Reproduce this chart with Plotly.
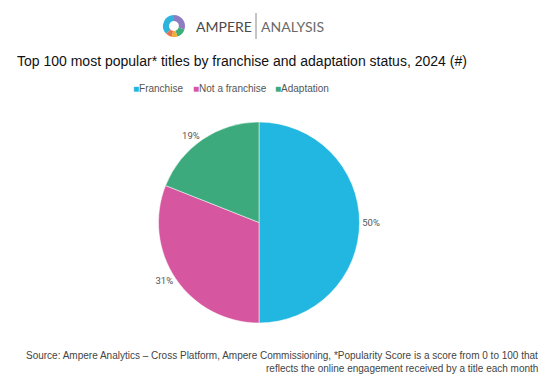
import plotly.graph_objects as go

categories = ["Franchise", "Not a franchise", "Adaptation"]
values = [50, 31, 19]
colors = ["#22B7E0", "#D6579F", "#3CAA7D"]

title_text = "Top 100 most popular* titles by franchise and adaptation status, 2024 (#)"
source_line1 = "Source: Ampere Analytics – Cross Platform, Ampere Commissioning, *Popularity Score is a score from 0 to 100 that"
source_line2 = "reflects the online engagement received by a title each month"

logo_segments = [30, 15, 8, 10, 37]
logo_colors = ["#8E7CC3", "#3DAE7A", "#F0B030", "#E8744A", "#2DB4DD"]

# page body has an 8px margin
OFF = 8
W, H = 558 - 2 * OFF, 383 - 2 * OFF

def px_x(x):
    return (x - OFF) / W

def px_y(y):
    return 1 - (y - OFF) / H

fig = go.Figure()

fig.add_trace(go.Pie(
    labels=categories,
    values=values,
    marker=dict(colors=colors, line=dict(color="white", width=0.5)),
    sort=False,
    direction="clockwise",
    rotation=0,
    textposition="outside",
    texttemplate="%{percent:.0%}",
    textfont=dict(family="Roboto, Liberation Sans, Arial", size=9.5, color="#555555"),
    showlegend=False,
    hoverinfo="label+value",
    domain=dict(x=[px_x(158), px_x(360)], y=[px_y(323), px_y(122)]),
))

fig.add_trace(go.Pie(
    values=logo_segments,
    marker=dict(colors=logo_colors),
    sort=False,
    direction="clockwise",
    rotation=0,
    hole=0.45,
    textinfo="none",
    showlegend=False,
    hoverinfo="skip",
    domain=dict(x=[px_x(163), px_x(185)], y=[px_y(37), px_y(15)]),
))

annotations = [
    dict(text="AMPERE", x=px_x(194), y=px_y(26), xanchor="left", yanchor="middle",
         font=dict(family="Lato, Open Sans, Liberation Sans", size=14, color="#4a4a4a")),
    dict(text="ANALYSIS", x=px_x(259), y=px_y(26), xanchor="left", yanchor="middle",
         font=dict(family="Lato, Open Sans, Liberation Sans", size=14, color="#6a6a6a")),
    dict(text=title_text, x=px_x(15), y=px_y(61), xanchor="left", yanchor="middle",
         font=dict(family="Liberation Sans, Arial", size=14, color="#111111")),
    dict(text=source_line1, x=px_x(540), y=px_y(355), xanchor="right", yanchor="middle",
         font=dict(family="Liberation Sans, Arial", size=10, color="#444444")),
    dict(text=source_line2, x=px_x(540), y=px_y(368), xanchor="right", yanchor="middle",
         font=dict(family="Liberation Sans, Arial", size=10, color="#444444")),
]

# custom compact legend (small squares close to labels)
legend_x = [131, 191, 273]
for cat, col, lx in zip(categories, colors, legend_x):
    annotations.append(dict(
        text=f"<span style='color:{col}'>■</span>{cat}",
        x=px_x(lx), y=px_y(88), xanchor="left", yanchor="middle",
        font=dict(family="Liberation Sans, Arial", size=10, color="#555555"),
    ))

for a in annotations:
    a.update(xref="paper", yref="paper", showarrow=False)

fig.update_layout(
    width=W, height=H,
    margin=dict(l=0, r=0, t=0, b=0),
    paper_bgcolor="white",
    plot_bgcolor="white",
    annotations=annotations,
    shapes=[dict(type="line", xref="paper", yref="paper",
                 x0=px_x(256), x1=px_x(256), y0=px_y(13), y1=px_y(39),
                 line=dict(color="#888888", width=1))],
    showlegend=False,
)

fig.write_html("out.html")
